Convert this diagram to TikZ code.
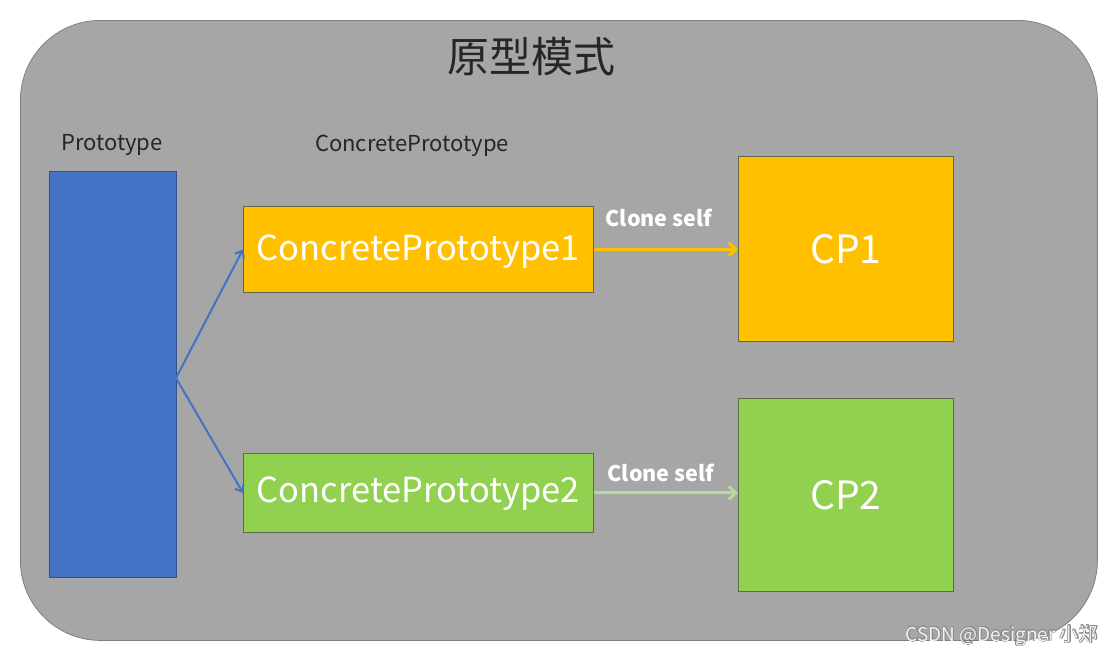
\documentclass[tikz,border=0pt]{standalone}
\usepackage{fontspec}
\setmainfont{Noto Sans CJK SC}
\usepackage[copies]{contour}
\usetikzlibrary{arrows.meta}
\definecolor{bggray}{HTML}{A6A6A6}
\definecolor{bgedge}{HTML}{7F7F7F}
\definecolor{pblue}{HTML}{4472C4}
\definecolor{pblueedge}{HTML}{2F528F}
\definecolor{pyellow}{HTML}{FFC000}
\definecolor{pgreen}{HTML}{92D050}
\definecolor{boxedge}{HTML}{5A6A4A}
\definecolor{lgreen}{HTML}{B4DC96}
\definecolor{txtdark}{HTML}{262626}
\definecolor{wmedge}{HTML}{8C8C8C}
\definecolor{wmfill}{HTML}{F2F2F2}
\contourlength{0.6pt}
\tikzset{
  x=1pt, y=-1pt,
  box/.style={draw=boxedge, line width=0.8pt, anchor=north west, inner sep=0pt},
  boxtext/.style={text=white, font=\fontsize{34.5}{38}\selectfont},
  bigtext/.style={text=white, font=\fontsize{39}{42}\selectfont},
  lbl/.style={text=txtdark, font=\fontsize{22}{26}\selectfont},
  clonelbl/.style={text=white, font=\bfseries\fontsize{21.5}{24}\selectfont},
  conn/.style={line width=3pt, -{Straight Barb[length=7pt,width=13pt]}},
  blueconn/.style={draw=pblue, line width=2pt, -{Straight Barb[length=6pt,width=10pt]}},
}
\begin{document}
\begin{tikzpicture}
\useasboundingbox (0,0) rectangle (1114,656);
\fill[white] (0,0) rectangle (1114,656);
\node[draw=bgedge, fill=bggray, line width=0.8pt, rounded corners=80pt, anchor=north west,
      minimum width=1077pt, minimum height=620pt, inner sep=0pt] (bg) at (20,20) {};
\node[text=txtdark, font=\fontsize{42}{46}\selectfont] (title) at (531,57) {原型模式};
\node[lbl] (protolbl) at (112,145) {Prototype};
\node[lbl] (cplbl) at (412,146) {ConcretePrototype};
\node[box, draw=pblueedge, fill=pblue, minimum width=127pt, minimum height=406pt] (proto) at (49,171) {};
\node[box, fill=pyellow, minimum width=350pt, minimum height=86pt] (cp1) at (243,206) {};
\node[boxtext] at ([yshift=-2pt]cp1.center) {ConcretePrototype1};
\node[box, fill=pgreen, minimum width=350pt, minimum height=79pt] (cp2) at (243,453) {};
\node[boxtext] at ([yshift=-1pt]cp2.center) {ConcretePrototype2};
\node[box, fill=pyellow, minimum width=215pt, minimum height=185pt] (c1) at (738,156) {};
\node[bigtext] at (c1.center) {CP1};
\node[box, fill=pgreen, minimum width=215pt, minimum height=193pt] (c2) at (738,398) {};
\node[bigtext] at (c2.center) {CP2};
\coordinate (fork) at (176,378);
\draw[blueconn] (fork) -- (cp1.west);
\draw[blueconn] (fork) -- (cp2.west);
\draw[conn, draw=pyellow] (cp1.east) -- (c1.west |- cp1.east) node[midway, clonelbl, yshift=31pt, xshift=-7pt] (cl1) {Clone self};
\draw[conn, draw=lgreen] (cp2.east) -- (c2.west |- cp2.east) node[midway, clonelbl, yshift=20pt, xshift=-5pt] (cl2) {Clone self};
\node[font=\fontsize{19}{22}\selectfont, anchor=east, inner sep=0pt] (wm) at (1098,636) {\contour{wmedge}{\textcolor{wmfill}{CSDN @Designer 小郑}}};
\end{tikzpicture}
\end{document}
